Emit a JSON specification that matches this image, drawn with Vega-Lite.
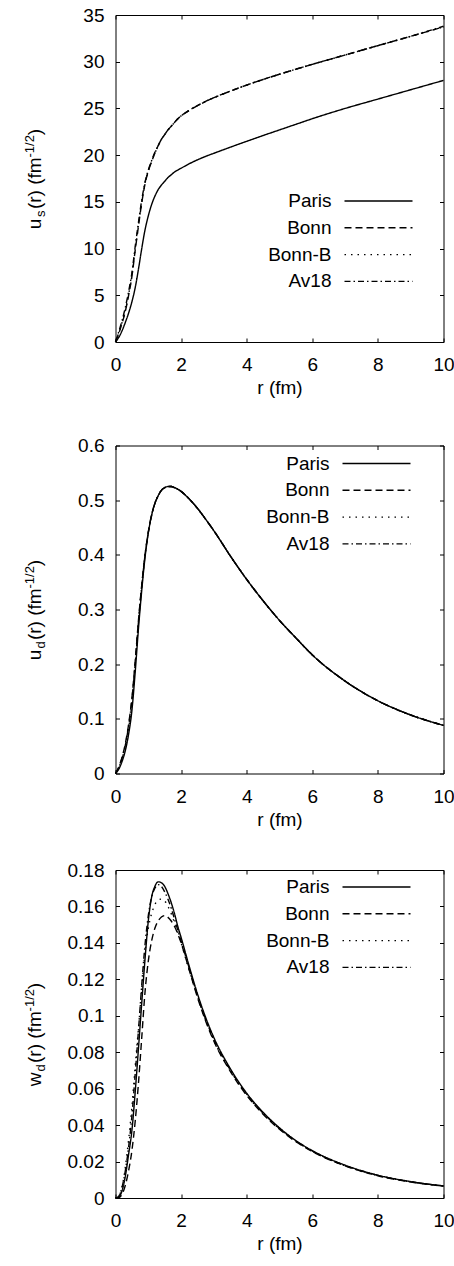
{
  "$schema": "https://vega.github.io/schema/vega-lite/v6.json",
  "padding": {"left": 22.5, "top": 5, "right": 0, "bottom": 0},
  "spacing": 30.5,
  "config": {
    "font": "Liberation Sans",
    "view": {"stroke": "#000", "strokeWidth": 1},
    "axis": {"grid": false, "domain": false, "tickColor": "#000", "tickSize": -4, "tickWidth": 1, "labelColor": "#000", "titleColor": "#000", "labelFont": "Liberation Sans", "titleFont": "Liberation Sans", "labelFontSize": 19, "titleFontSize": 19, "titleFontWeight": "normal", "labelFlush": false, "labelOverlap": false},
    "legend": {"orient": "none", "direction": "vertical", "symbolType": "M-4,0H4", "symbolSize": 289, "symbolStrokeWidth": 1.4, "symbolStrokeColor": "#000", "symbolFillColor": "transparent", "labelFont": "Liberation Sans", "labelFontSize": 19, "labelColor": "#000", "labelAlign": "right", "labelOffset": -56.5, "symbolOffset": 100.9, "rowPadding": 6.8, "padding": 0, "labelLimit": 300},
    "line": {"color": "#000", "strokeWidth": 1.4, "interpolate": "monotone"}
  },
  "datasets": {
    "us": [
      {"model":"Paris","r":0,"v":0},{"model":"Paris","r":0.1,"v":0.5},{"model":"Paris","r":0.2,"v":1.2},{"model":"Paris","r":0.3,"v":2.1},{"model":"Paris","r":0.4,"v":3.1},{"model":"Paris","r":0.5,"v":4.3},{"model":"Paris","r":0.6,"v":5.8},{"model":"Paris","r":0.7,"v":7.8},{"model":"Paris","r":0.8,"v":10},{"model":"Paris","r":0.9,"v":12},{"model":"Paris","r":1,"v":13.5},{"model":"Paris","r":1.1,"v":14.7},{"model":"Paris","r":1.2,"v":15.6},{"model":"Paris","r":1.3,"v":16.3},{"model":"Paris","r":1.4,"v":16.8},{"model":"Paris","r":1.5,"v":17.2},{"model":"Paris","r":1.6,"v":17.6},{"model":"Paris","r":1.7,"v":17.9},{"model":"Paris","r":1.8,"v":18.2},{"model":"Paris","r":1.9,"v":18.4},{"model":"Paris","r":2,"v":18.6},{"model":"Paris","r":2.25,"v":19.08},{"model":"Paris","r":2.5,"v":19.5},{"model":"Paris","r":2.75,"v":19.87},{"model":"Paris","r":3,"v":20.2},{"model":"Paris","r":3.5,"v":20.85},{"model":"Paris","r":4,"v":21.48},{"model":"Paris","r":4.5,"v":22.1},{"model":"Paris","r":5,"v":22.7},{"model":"Paris","r":5.5,"v":23.3},{"model":"Paris","r":6,"v":23.9},{"model":"Paris","r":7,"v":25},{"model":"Paris","r":8,"v":26},{"model":"Paris","r":9,"v":27},{"model":"Paris","r":10,"v":28},
      {"model":"Bonn","r":0,"v":0},{"model":"Bonn","r":0.1,"v":0.9},{"model":"Bonn","r":0.2,"v":2},{"model":"Bonn","r":0.3,"v":3.3},{"model":"Bonn","r":0.4,"v":5},{"model":"Bonn","r":0.5,"v":7},{"model":"Bonn","r":0.6,"v":9.8},{"model":"Bonn","r":0.7,"v":12.4},{"model":"Bonn","r":0.8,"v":14.9},{"model":"Bonn","r":0.9,"v":16.9},{"model":"Bonn","r":1,"v":18.3},{"model":"Bonn","r":1.1,"v":19.3},{"model":"Bonn","r":1.2,"v":20.2},{"model":"Bonn","r":1.3,"v":21},{"model":"Bonn","r":1.4,"v":21.7},{"model":"Bonn","r":1.5,"v":22.2},{"model":"Bonn","r":1.6,"v":22.7},{"model":"Bonn","r":1.7,"v":23.1},{"model":"Bonn","r":1.8,"v":23.5},{"model":"Bonn","r":1.9,"v":23.9},{"model":"Bonn","r":2,"v":24.2},{"model":"Bonn","r":2.25,"v":24.8},{"model":"Bonn","r":2.5,"v":25.3},{"model":"Bonn","r":2.75,"v":25.75},{"model":"Bonn","r":3,"v":26.15},{"model":"Bonn","r":3.5,"v":26.85},{"model":"Bonn","r":4,"v":27.5},{"model":"Bonn","r":4.5,"v":28.1},{"model":"Bonn","r":5,"v":28.66},{"model":"Bonn","r":5.5,"v":29.2},{"model":"Bonn","r":6,"v":29.72},{"model":"Bonn","r":7,"v":30.72},{"model":"Bonn","r":8,"v":31.72},{"model":"Bonn","r":9,"v":32.72},{"model":"Bonn","r":10,"v":33.72},
      {"model":"Bonn-B","r":0,"v":0},{"model":"Bonn-B","r":0.1,"v":1},{"model":"Bonn-B","r":0.2,"v":2.1},{"model":"Bonn-B","r":0.3,"v":3.4},{"model":"Bonn-B","r":0.4,"v":5.1},{"model":"Bonn-B","r":0.5,"v":7.1},{"model":"Bonn-B","r":0.6,"v":9.9},{"model":"Bonn-B","r":0.7,"v":12.5},{"model":"Bonn-B","r":0.8,"v":15},{"model":"Bonn-B","r":0.9,"v":17},{"model":"Bonn-B","r":1,"v":18.3},{"model":"Bonn-B","r":1.1,"v":19.3},{"model":"Bonn-B","r":1.2,"v":20.2},{"model":"Bonn-B","r":1.3,"v":21},{"model":"Bonn-B","r":1.4,"v":21.7},{"model":"Bonn-B","r":1.5,"v":22.2},{"model":"Bonn-B","r":1.6,"v":22.7},{"model":"Bonn-B","r":1.7,"v":23.1},{"model":"Bonn-B","r":1.8,"v":23.5},{"model":"Bonn-B","r":1.9,"v":23.9},{"model":"Bonn-B","r":2,"v":24.2},{"model":"Bonn-B","r":2.25,"v":24.8},{"model":"Bonn-B","r":2.5,"v":25.3},{"model":"Bonn-B","r":2.75,"v":25.75},{"model":"Bonn-B","r":3,"v":26.15},{"model":"Bonn-B","r":3.5,"v":26.85},{"model":"Bonn-B","r":4,"v":27.5},{"model":"Bonn-B","r":4.5,"v":28.1},{"model":"Bonn-B","r":5,"v":28.66},{"model":"Bonn-B","r":5.5,"v":29.2},{"model":"Bonn-B","r":6,"v":29.72},{"model":"Bonn-B","r":7,"v":30.72},{"model":"Bonn-B","r":8,"v":31.72},{"model":"Bonn-B","r":9,"v":32.72},{"model":"Bonn-B","r":10,"v":33.72},
      {"model":"Av18","r":0,"v":0},{"model":"Av18","r":0.1,"v":1.1},{"model":"Av18","r":0.2,"v":2.3},{"model":"Av18","r":0.3,"v":3.7},{"model":"Av18","r":0.4,"v":5.4},{"model":"Av18","r":0.5,"v":7.4},{"model":"Av18","r":0.6,"v":10.2},{"model":"Av18","r":0.7,"v":12.8},{"model":"Av18","r":0.8,"v":15.2},{"model":"Av18","r":0.9,"v":17.1},{"model":"Av18","r":1,"v":18.4},{"model":"Av18","r":1.1,"v":19.4},{"model":"Av18","r":1.2,"v":20.3},{"model":"Av18","r":1.3,"v":21},{"model":"Av18","r":1.4,"v":21.7},{"model":"Av18","r":1.5,"v":22.2},{"model":"Av18","r":1.6,"v":22.7},{"model":"Av18","r":1.7,"v":23.1},{"model":"Av18","r":1.8,"v":23.5},{"model":"Av18","r":1.9,"v":23.9},{"model":"Av18","r":2,"v":24.2},{"model":"Av18","r":2.25,"v":24.8},{"model":"Av18","r":2.5,"v":25.3},{"model":"Av18","r":2.75,"v":25.75},{"model":"Av18","r":3,"v":26.15},{"model":"Av18","r":3.5,"v":26.85},{"model":"Av18","r":4,"v":27.5},{"model":"Av18","r":4.5,"v":28.1},{"model":"Av18","r":5,"v":28.66},{"model":"Av18","r":5.5,"v":29.2},{"model":"Av18","r":6,"v":29.72},{"model":"Av18","r":7,"v":30.72},{"model":"Av18","r":8,"v":31.72},{"model":"Av18","r":9,"v":32.72},{"model":"Av18","r":10,"v":33.8}
    ],
    "ud": [
      {"model":"Paris","r":0,"v":0},{"model":"Paris","r":0.1,"v":0.008},{"model":"Paris","r":0.2,"v":0.022},{"model":"Paris","r":0.3,"v":0.042},{"model":"Paris","r":0.4,"v":0.072},{"model":"Paris","r":0.5,"v":0.115},{"model":"Paris","r":0.6,"v":0.185},{"model":"Paris","r":0.7,"v":0.265},{"model":"Paris","r":0.8,"v":0.335},{"model":"Paris","r":0.9,"v":0.395},{"model":"Paris","r":1,"v":0.44},{"model":"Paris","r":1.1,"v":0.472},{"model":"Paris","r":1.2,"v":0.494},{"model":"Paris","r":1.3,"v":0.508},{"model":"Paris","r":1.4,"v":0.518},{"model":"Paris","r":1.5,"v":0.523},{"model":"Paris","r":1.6,"v":0.525},{"model":"Paris","r":1.7,"v":0.525},{"model":"Paris","r":1.8,"v":0.523},{"model":"Paris","r":1.9,"v":0.52},{"model":"Paris","r":2,"v":0.516},{"model":"Paris","r":2.25,"v":0.502},{"model":"Paris","r":2.5,"v":0.485},{"model":"Paris","r":2.75,"v":0.465},{"model":"Paris","r":3,"v":0.444},{"model":"Paris","r":3.5,"v":0.398},{"model":"Paris","r":4,"v":0.355},{"model":"Paris","r":4.5,"v":0.316},{"model":"Paris","r":5,"v":0.28},{"model":"Paris","r":5.5,"v":0.248},{"model":"Paris","r":6,"v":0.217},{"model":"Paris","r":7,"v":0.169},{"model":"Paris","r":8,"v":0.133},{"model":"Paris","r":9,"v":0.107},{"model":"Paris","r":10,"v":0.088},
      {"model":"Bonn","r":0,"v":0},{"model":"Bonn","r":0.1,"v":0.012},{"model":"Bonn","r":0.2,"v":0.03},{"model":"Bonn","r":0.3,"v":0.055},{"model":"Bonn","r":0.4,"v":0.09},{"model":"Bonn","r":0.5,"v":0.138},{"model":"Bonn","r":0.6,"v":0.205},{"model":"Bonn","r":0.7,"v":0.28},{"model":"Bonn","r":0.8,"v":0.345},{"model":"Bonn","r":0.9,"v":0.4},{"model":"Bonn","r":1,"v":0.442},{"model":"Bonn","r":1.1,"v":0.473},{"model":"Bonn","r":1.2,"v":0.494},{"model":"Bonn","r":1.3,"v":0.508},{"model":"Bonn","r":1.4,"v":0.518},{"model":"Bonn","r":1.5,"v":0.523},{"model":"Bonn","r":1.6,"v":0.525},{"model":"Bonn","r":1.7,"v":0.525},{"model":"Bonn","r":1.8,"v":0.523},{"model":"Bonn","r":1.9,"v":0.52},{"model":"Bonn","r":2,"v":0.516},{"model":"Bonn","r":2.25,"v":0.502},{"model":"Bonn","r":2.5,"v":0.485},{"model":"Bonn","r":2.75,"v":0.465},{"model":"Bonn","r":3,"v":0.444},{"model":"Bonn","r":3.5,"v":0.398},{"model":"Bonn","r":4,"v":0.355},{"model":"Bonn","r":4.5,"v":0.316},{"model":"Bonn","r":5,"v":0.28},{"model":"Bonn","r":5.5,"v":0.248},{"model":"Bonn","r":6,"v":0.217},{"model":"Bonn","r":7,"v":0.169},{"model":"Bonn","r":8,"v":0.133},{"model":"Bonn","r":9,"v":0.107},{"model":"Bonn","r":10,"v":0.088},
      {"model":"Bonn-B","r":0,"v":0},{"model":"Bonn-B","r":0.1,"v":0.01},{"model":"Bonn-B","r":0.2,"v":0.027},{"model":"Bonn-B","r":0.3,"v":0.05},{"model":"Bonn-B","r":0.4,"v":0.083},{"model":"Bonn-B","r":0.5,"v":0.13},{"model":"Bonn-B","r":0.6,"v":0.198},{"model":"Bonn-B","r":0.7,"v":0.275},{"model":"Bonn-B","r":0.8,"v":0.342},{"model":"Bonn-B","r":0.9,"v":0.398},{"model":"Bonn-B","r":1,"v":0.441},{"model":"Bonn-B","r":1.1,"v":0.472},{"model":"Bonn-B","r":1.2,"v":0.494},{"model":"Bonn-B","r":1.3,"v":0.508},{"model":"Bonn-B","r":1.4,"v":0.518},{"model":"Bonn-B","r":1.5,"v":0.523},{"model":"Bonn-B","r":1.6,"v":0.525},{"model":"Bonn-B","r":1.7,"v":0.525},{"model":"Bonn-B","r":1.8,"v":0.523},{"model":"Bonn-B","r":1.9,"v":0.52},{"model":"Bonn-B","r":2,"v":0.516},{"model":"Bonn-B","r":2.25,"v":0.502},{"model":"Bonn-B","r":2.5,"v":0.485},{"model":"Bonn-B","r":2.75,"v":0.465},{"model":"Bonn-B","r":3,"v":0.444},{"model":"Bonn-B","r":3.5,"v":0.398},{"model":"Bonn-B","r":4,"v":0.355},{"model":"Bonn-B","r":4.5,"v":0.316},{"model":"Bonn-B","r":5,"v":0.28},{"model":"Bonn-B","r":5.5,"v":0.248},{"model":"Bonn-B","r":6,"v":0.217},{"model":"Bonn-B","r":7,"v":0.169},{"model":"Bonn-B","r":8,"v":0.133},{"model":"Bonn-B","r":9,"v":0.107},{"model":"Bonn-B","r":10,"v":0.088},
      {"model":"Av18","r":0,"v":0},{"model":"Av18","r":0.1,"v":0.011},{"model":"Av18","r":0.2,"v":0.028},{"model":"Av18","r":0.3,"v":0.052},{"model":"Av18","r":0.4,"v":0.087},{"model":"Av18","r":0.5,"v":0.134},{"model":"Av18","r":0.6,"v":0.2},{"model":"Av18","r":0.7,"v":0.277},{"model":"Av18","r":0.8,"v":0.343},{"model":"Av18","r":0.9,"v":0.399},{"model":"Av18","r":1,"v":0.441},{"model":"Av18","r":1.1,"v":0.472},{"model":"Av18","r":1.2,"v":0.494},{"model":"Av18","r":1.3,"v":0.508},{"model":"Av18","r":1.4,"v":0.518},{"model":"Av18","r":1.5,"v":0.523},{"model":"Av18","r":1.6,"v":0.525},{"model":"Av18","r":1.7,"v":0.525},{"model":"Av18","r":1.8,"v":0.523},{"model":"Av18","r":1.9,"v":0.52},{"model":"Av18","r":2,"v":0.516},{"model":"Av18","r":2.25,"v":0.502},{"model":"Av18","r":2.5,"v":0.485},{"model":"Av18","r":2.75,"v":0.465},{"model":"Av18","r":3,"v":0.444},{"model":"Av18","r":3.5,"v":0.398},{"model":"Av18","r":4,"v":0.355},{"model":"Av18","r":4.5,"v":0.316},{"model":"Av18","r":5,"v":0.28},{"model":"Av18","r":5.5,"v":0.248},{"model":"Av18","r":6,"v":0.217},{"model":"Av18","r":7,"v":0.169},{"model":"Av18","r":8,"v":0.133},{"model":"Av18","r":9,"v":0.107},{"model":"Av18","r":10,"v":0.088}
    ],
    "wd": [
      {"model":"Paris","r":0,"v":0},{"model":"Paris","r":0.1,"v":0.0005},{"model":"Paris","r":0.2,"v":0.004},{"model":"Paris","r":0.3,"v":0.012},{"model":"Paris","r":0.4,"v":0.024},{"model":"Paris","r":0.5,"v":0.037},{"model":"Paris","r":0.6,"v":0.058},{"model":"Paris","r":0.7,"v":0.082},{"model":"Paris","r":0.8,"v":0.107},{"model":"Paris","r":0.9,"v":0.131},{"model":"Paris","r":1,"v":0.152},{"model":"Paris","r":1.1,"v":0.165},{"model":"Paris","r":1.2,"v":0.171},{"model":"Paris","r":1.3,"v":0.1735},{"model":"Paris","r":1.4,"v":0.173},{"model":"Paris","r":1.5,"v":0.171},{"model":"Paris","r":1.6,"v":0.167},{"model":"Paris","r":1.7,"v":0.162},{"model":"Paris","r":1.8,"v":0.156},{"model":"Paris","r":1.9,"v":0.149},{"model":"Paris","r":2,"v":0.143},{"model":"Paris","r":2.25,"v":0.127},{"model":"Paris","r":2.5,"v":0.112},{"model":"Paris","r":2.75,"v":0.099},{"model":"Paris","r":3,"v":0.088},{"model":"Paris","r":3.5,"v":0.071},{"model":"Paris","r":4,"v":0.0575},{"model":"Paris","r":4.5,"v":0.047},{"model":"Paris","r":5,"v":0.0385},{"model":"Paris","r":5.5,"v":0.0315},{"model":"Paris","r":6,"v":0.026},{"model":"Paris","r":7,"v":0.018},{"model":"Paris","r":8,"v":0.0125},{"model":"Paris","r":9,"v":0.009},{"model":"Paris","r":10,"v":0.0066},
      {"model":"Bonn","r":0,"v":0},{"model":"Bonn","r":0.1,"v":0.0002},{"model":"Bonn","r":0.2,"v":0.002},{"model":"Bonn","r":0.3,"v":0.007},{"model":"Bonn","r":0.4,"v":0.015},{"model":"Bonn","r":0.5,"v":0.026},{"model":"Bonn","r":0.6,"v":0.042},{"model":"Bonn","r":0.7,"v":0.063},{"model":"Bonn","r":0.8,"v":0.088},{"model":"Bonn","r":0.9,"v":0.113},{"model":"Bonn","r":1,"v":0.13},{"model":"Bonn","r":1.1,"v":0.141},{"model":"Bonn","r":1.2,"v":0.148},{"model":"Bonn","r":1.3,"v":0.152},{"model":"Bonn","r":1.4,"v":0.1542},{"model":"Bonn","r":1.5,"v":0.155},{"model":"Bonn","r":1.6,"v":0.154},{"model":"Bonn","r":1.7,"v":0.152},{"model":"Bonn","r":1.8,"v":0.149},{"model":"Bonn","r":1.9,"v":0.145},{"model":"Bonn","r":2,"v":0.14},{"model":"Bonn","r":2.25,"v":0.125},{"model":"Bonn","r":2.5,"v":0.11},{"model":"Bonn","r":2.75,"v":0.097},{"model":"Bonn","r":3,"v":0.086},{"model":"Bonn","r":3.5,"v":0.0695},{"model":"Bonn","r":4,"v":0.0563},{"model":"Bonn","r":4.5,"v":0.046},{"model":"Bonn","r":5,"v":0.0377},{"model":"Bonn","r":5.5,"v":0.0309},{"model":"Bonn","r":6,"v":0.0255},{"model":"Bonn","r":7,"v":0.0176},{"model":"Bonn","r":8,"v":0.0122},{"model":"Bonn","r":9,"v":0.0088},{"model":"Bonn","r":10,"v":0.0065},
      {"model":"Bonn-B","r":0,"v":0},{"model":"Bonn-B","r":0.1,"v":0.001},{"model":"Bonn-B","r":0.2,"v":0.006},{"model":"Bonn-B","r":0.3,"v":0.017},{"model":"Bonn-B","r":0.4,"v":0.032},{"model":"Bonn-B","r":0.5,"v":0.05},{"model":"Bonn-B","r":0.6,"v":0.072},{"model":"Bonn-B","r":0.7,"v":0.093},{"model":"Bonn-B","r":0.8,"v":0.115},{"model":"Bonn-B","r":0.9,"v":0.135},{"model":"Bonn-B","r":1,"v":0.148},{"model":"Bonn-B","r":1.1,"v":0.156},{"model":"Bonn-B","r":1.2,"v":0.161},{"model":"Bonn-B","r":1.3,"v":0.1635},{"model":"Bonn-B","r":1.4,"v":0.164},{"model":"Bonn-B","r":1.5,"v":0.163},{"model":"Bonn-B","r":1.6,"v":0.16},{"model":"Bonn-B","r":1.7,"v":0.156},{"model":"Bonn-B","r":1.8,"v":0.151},{"model":"Bonn-B","r":1.9,"v":0.146},{"model":"Bonn-B","r":2,"v":0.14},{"model":"Bonn-B","r":2.25,"v":0.125},{"model":"Bonn-B","r":2.5,"v":0.1105},{"model":"Bonn-B","r":2.75,"v":0.0975},{"model":"Bonn-B","r":3,"v":0.0865},{"model":"Bonn-B","r":3.5,"v":0.07},{"model":"Bonn-B","r":4,"v":0.0567},{"model":"Bonn-B","r":4.5,"v":0.0463},{"model":"Bonn-B","r":5,"v":0.038},{"model":"Bonn-B","r":5.5,"v":0.0311},{"model":"Bonn-B","r":6,"v":0.0257},{"model":"Bonn-B","r":7,"v":0.0177},{"model":"Bonn-B","r":8,"v":0.0123},{"model":"Bonn-B","r":9,"v":0.0089},{"model":"Bonn-B","r":10,"v":0.0065},
      {"model":"Av18","r":0,"v":0},{"model":"Av18","r":0.1,"v":0.001},{"model":"Av18","r":0.2,"v":0.006},{"model":"Av18","r":0.3,"v":0.015},{"model":"Av18","r":0.4,"v":0.028},{"model":"Av18","r":0.5,"v":0.045},{"model":"Av18","r":0.6,"v":0.068},{"model":"Av18","r":0.7,"v":0.092},{"model":"Av18","r":0.8,"v":0.117},{"model":"Av18","r":0.9,"v":0.139},{"model":"Av18","r":1,"v":0.155},{"model":"Av18","r":1.1,"v":0.165},{"model":"Av18","r":1.2,"v":0.17},{"model":"Av18","r":1.3,"v":0.172},{"model":"Av18","r":1.4,"v":0.171},{"model":"Av18","r":1.5,"v":0.168},{"model":"Av18","r":1.6,"v":0.164},{"model":"Av18","r":1.7,"v":0.159},{"model":"Av18","r":1.8,"v":0.153},{"model":"Av18","r":1.9,"v":0.147},{"model":"Av18","r":2,"v":0.141},{"model":"Av18","r":2.25,"v":0.126},{"model":"Av18","r":2.5,"v":0.111},{"model":"Av18","r":2.75,"v":0.098},{"model":"Av18","r":3,"v":0.087},{"model":"Av18","r":3.5,"v":0.0703},{"model":"Av18","r":4,"v":0.057},{"model":"Av18","r":4.5,"v":0.0466},{"model":"Av18","r":5,"v":0.0382},{"model":"Av18","r":5.5,"v":0.0313},{"model":"Av18","r":6,"v":0.0258},{"model":"Av18","r":7,"v":0.0178},{"model":"Av18","r":8,"v":0.0124},{"model":"Av18","r":9,"v":0.0089},{"model":"Av18","r":10,"v":0.0066}
    ]
  },
  "resolve": {"scale": {"x": "independent", "y": "independent", "strokeDash": "independent"}, "legend": {"strokeDash": "independent"}},
  "vconcat": [
    {
      "width": 328, "height": 327,
      "data": {"name": "us"},
      "resolve": {"axis": {"x": "independent", "y": "independent"}},
      "layer": [
        {
          "mark": {"type": "line"},
          "encoding": {
            "x": {"field": "r", "type": "quantitative", "scale": {"domain": [0, 10], "nice": false}, "axis": {"orient": "bottom", "values": [0, 2, 4, 6, 8, 10], "title": "r (fm)", "labelPadding": 17.5, "titlePadding": 4}},
            "y": {"field": "v", "type": "quantitative", "scale": {"domain": [0, 35], "nice": false}, "axis": {"orient": "left", "values": [0, 5, 10, 15, 20, 25, 30, 35], "format": "~g", "labelPadding": 15.5, "title": "u\u2002(r) (fm\u2002\u2002\u2006)", "titleAngle": 270, "titleX": -75.5, "titleY": 163.5, "titleAlign": "center", "titleBaseline": "alphabetic"}},
            "strokeDash": {"field": "model", "type": "nominal", "scale": {"domain": ["Paris", "Bonn", "Bonn-B", "Av18"], "range": [[1, 0], [7, 4], [1.5, 5], [6, 3, 1.5, 3]]}, "legend": {"title": null, "legendX": 152.6, "legendY": 176.5}}
          }
        },
        {
          "mark": {"type": "point", "opacity": 0},
          "encoding": {
            "x": {"field": "r", "type": "quantitative", "scale": {"domain": [0, 10], "nice": false}, "axis": {"orient": "top", "values": [0, 2, 4, 6, 8, 10], "labels": false, "title": "-1/2", "titleFontSize": 13, "titleAngle": 270, "titleX": -82.5, "titleY": 130.8, "titleAlign": "center", "titleBaseline": "alphabetic"}},
            "y": {"field": "v", "type": "quantitative", "scale": {"domain": [0, 35], "nice": false}, "axis": {"orient": "right", "values": [0, 5, 10, 15, 20, 25, 30, 35], "labels": false, "title": "s", "titleFontSize": 13, "titleAngle": 270, "titleX": -399.5, "titleY": 198.35, "titleAlign": "center", "titleBaseline": "alphabetic"}}
          }
        }
      ]
    },
    {
      "width": 328, "height": 328,
      "data": {"name": "ud"},
      "resolve": {"axis": {"x": "independent", "y": "independent"}},
      "layer": [
        {
          "mark": {"type": "line"},
          "encoding": {
            "x": {"field": "r", "type": "quantitative", "scale": {"domain": [0, 10], "nice": false}, "axis": {"orient": "bottom", "values": [0, 2, 4, 6, 8, 10], "title": "r (fm)", "labelPadding": 17.5, "titlePadding": 4}},
            "y": {"field": "v", "type": "quantitative", "scale": {"domain": [0, 0.6], "nice": false}, "axis": {"orient": "left", "values": [0, 0.1, 0.2, 0.3, 0.4, 0.5, 0.6], "format": "~g", "labelPadding": 15.5, "title": "u\u2002(r) (fm\u2002\u2002\u2006)", "titleAngle": 270, "titleX": -75.5, "titleY": 164, "titleAlign": "center", "titleBaseline": "alphabetic"}},
            "strokeDash": {"field": "model", "type": "nominal", "scale": {"domain": ["Paris", "Bonn", "Bonn-B", "Av18"], "range": [[1, 0], [7, 4], [1.5, 5], [6, 3, 1.5, 3]]}, "legend": {"title": null, "legendX": 150.6, "legendY": 8.5}}
          }
        },
        {
          "mark": {"type": "point", "opacity": 0},
          "encoding": {
            "x": {"field": "r", "type": "quantitative", "scale": {"domain": [0, 10], "nice": false}, "axis": {"orient": "top", "values": [0, 2, 4, 6, 8, 10], "labels": true, "labelColor": "#fff", "labelFontSize": 10, "labelPadding": 10, "title": "-1/2", "titleFontSize": 13, "titleAngle": 270, "titleX": -82.5, "titleY": 131.3, "titleAlign": "center", "titleBaseline": "alphabetic"}},
            "y": {"field": "v", "type": "quantitative", "scale": {"domain": [0, 0.6], "nice": false}, "axis": {"orient": "right", "values": [0, 0.1, 0.2, 0.3, 0.4, 0.5, 0.6], "labels": false, "title": "d", "titleFontSize": 13, "titleAngle": 270, "titleX": -399.5, "titleY": 198.85, "titleAlign": "center", "titleBaseline": "alphabetic"}}
          }
        }
      ]
    },
    {
      "width": 328, "height": 328,
      "data": {"name": "wd"},
      "resolve": {"axis": {"x": "independent", "y": "independent"}},
      "layer": [
        {
          "mark": {"type": "line"},
          "encoding": {
            "x": {"field": "r", "type": "quantitative", "scale": {"domain": [0, 10], "nice": false}, "axis": {"orient": "bottom", "values": [0, 2, 4, 6, 8, 10], "title": "r (fm)", "labelPadding": 17.5, "titlePadding": 4}},
            "y": {"field": "v", "type": "quantitative", "scale": {"domain": [0, 0.18], "nice": false}, "axis": {"orient": "left", "values": [0, 0.02, 0.04, 0.06, 0.08, 0.1, 0.12, 0.14, 0.16, 0.18], "format": "~g", "labelPadding": 15.5, "title": "w\u2002(r) (fm\u2002\u2002\u2006)", "titleAngle": 270, "titleX": -75.5, "titleY": 164, "titleAlign": "center", "titleBaseline": "alphabetic"}},
            "strokeDash": {"field": "model", "type": "nominal", "scale": {"domain": ["Paris", "Bonn", "Bonn-B", "Av18"], "range": [[1, 0], [7, 4], [1.5, 5], [6, 3, 1.5, 3]]}, "legend": {"title": null, "legendX": 150.6, "legendY": 7.5}}
          }
        },
        {
          "mark": {"type": "point", "opacity": 0},
          "encoding": {
            "x": {"field": "r", "type": "quantitative", "scale": {"domain": [0, 10], "nice": false}, "axis": {"orient": "top", "values": [0, 2, 4, 6, 8, 10], "labels": false, "title": "-1/2", "titleFontSize": 13, "titleAngle": 270, "titleX": -82.5, "titleY": 129.7, "titleAlign": "center", "titleBaseline": "alphabetic"}},
            "y": {"field": "v", "type": "quantitative", "scale": {"domain": [0, 0.18], "nice": false}, "axis": {"orient": "right", "values": [0, 0.02, 0.04, 0.06, 0.08, 0.1, 0.12, 0.14, 0.16, 0.18], "labels": false, "title": "d", "titleFontSize": 13, "titleAngle": 270, "titleX": -399.5, "titleY": 197.3, "titleAlign": "center", "titleBaseline": "alphabetic"}}
          }
        }
      ]
    }
  ]
}
